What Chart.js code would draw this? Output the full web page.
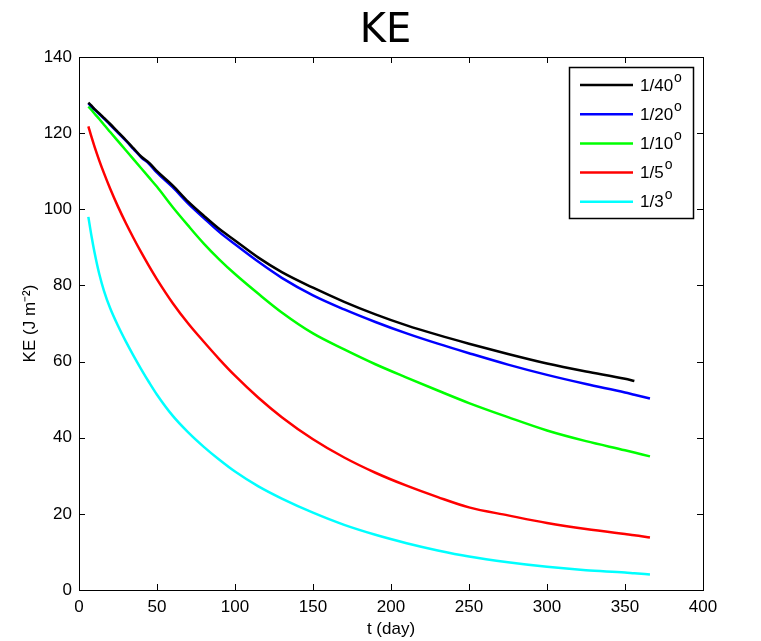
<!DOCTYPE html>
<html>
<head>
<meta charset="utf-8">
<title>KE</title>
<script src="https://cdn.jsdelivr.net/npm/chart.js@4.4.1/dist/chart.umd.min.js"></script>
<style>
  html, body { margin: 0; padding: 0; background: #fff; }
  #wrap { width: 761px; height: 641px; }
</style>
</head>
<body>
<div id="wrap"><canvas id="keChart"></canvas></div>
<script>
// time axis (days) shared by all runs
const days = [6, 8, 10, 13, 16, 20, 25, 30, 35, 40, 45, 50, 60, 70, 80, 90, 100,
  115, 130, 150, 170, 190, 210, 230, 250, 275, 300, 325, 350, 356, 366];

// kinetic energy per resolution; the 1/40 run stops at day 356
const ke40 = [128.0, 127.2, 126.3, 125.2, 124.0, 122.4, 120.3, 118.2, 116.0, 113.8, 112.2, 110.0,
  106.3, 102.0, 98.3, 94.8, 91.8, 87.3, 83.5, 79.4, 75.7, 72.4, 69.5, 67.0, 64.7, 62.0, 59.5,
  57.4, 55.5, 54.9, null];
const ke20 = [127.8, 127.0, 126.2, 125.0, 123.8, 122.2, 120.1, 118.0, 115.8, 113.6, 111.9, 109.6,
  105.8, 101.5, 97.7, 94.0, 90.8, 86.2, 82.0, 77.4, 73.7, 70.4, 67.4, 64.7, 62.2, 59.2, 56.5,
  54.1, 51.9, 51.3, 50.3];
const ke10 = [127.0, 126.1, 125.1, 123.7, 122.2, 120.3, 117.9, 115.5, 113.1, 110.7, 108.3, 105.9,
  100.6, 95.7, 91.0, 86.8, 83.0, 77.8, 72.9, 67.4, 63.2, 59.3, 55.8, 52.4, 49.1, 45.4, 41.9,
  39.1, 36.7, 36.1, 35.1];
const ke5 = [121.8, 119.0, 116.4, 112.8, 109.5, 105.4, 100.7, 96.4, 92.4, 88.6, 85.0, 81.6,
  75.4, 70.0, 65.2, 60.6, 56.3, 50.5, 45.4, 39.6, 34.8, 30.8, 27.4, 24.4, 21.7, 19.6, 17.6,
  16.0, 14.7, 14.4, 13.8];
const ke3 = [98.0, 93.0, 88.6, 83.0, 78.6, 74.0, 69.4, 65.3, 61.5, 57.9, 54.5, 51.3,
  45.8, 41.4, 37.6, 34.2, 31.1, 27.2, 24.0, 20.3, 17.1, 14.5, 12.3, 10.4, 8.8, 7.3, 6.1,
  5.2, 4.6, 4.4, 4.1];

const seriesLabels = ['1/40', '1/20', '1/10', '1/5', '1/3'];
const seriesValues = [ke40, ke20, ke10, ke5, ke3];
const seriesColors = ['#000000', '#0000ff', '#00ff00', '#ff0000', '#00ffff'];

const xTicks = [0, 50, 100, 150, 200, 250, 300, 350, 400];
const yTicks = [0, 20, 40, 60, 80, 100, 120, 140];

const tickFont = { family: '"Liberation Sans", Arial, sans-serif', size: 17 };

function toPoints(values) {
  return days
    .map((d, i) => ({ x: d, y: values[i] }))
    .filter(p => p.y !== null);
}

// plot title, centred a little right of the canvas middle
const plotTitle = {
  id: 'plotTitle',
  afterDraw(chart) {
    const { ctx } = chart;
    ctx.save();
    ctx.fillStyle = '#000';
    ctx.font = '40px "DejaVu Sans", sans-serif';
    ctx.textAlign = 'center';
    ctx.textBaseline = 'alphabetic';
    ctx.fillText('KE', chart.width / 2 + 5, 42);
    ctx.restore();
  }
};

// box around the axes with short inward ticks on every side
const frameTicks = {
  id: 'frameTicks',
  afterDatasetsDraw(chart) {
    const { ctx, chartArea: a, scales: { x, y } } = chart;
    const len = 6;
    ctx.save();
    ctx.strokeStyle = '#000';
    ctx.lineWidth = 1;
    ctx.beginPath();
    x.ticks.forEach(t => {
      const px = Math.round(x.getPixelForValue(t.value)) + 0.5;
      ctx.moveTo(px, a.bottom); ctx.lineTo(px, a.bottom - len);
      ctx.moveTo(px, a.top); ctx.lineTo(px, a.top + len);
    });
    y.ticks.forEach(t => {
      const py = Math.round(y.getPixelForValue(t.value)) + 0.5;
      ctx.moveTo(a.left, py); ctx.lineTo(a.left + len, py);
      ctx.moveTo(a.right, py); ctx.lineTo(a.right - len, py);
    });
    ctx.stroke();
    ctx.strokeRect(Math.round(a.left) + 0.5, Math.round(a.top) + 0.5,
      Math.round(a.width), Math.round(a.height));
    ctx.restore();
  }
};

// boxed legend in the upper right corner, label followed by a raised "o"
const cornerLegend = {
  id: 'cornerLegend',
  afterDraw(chart) {
    const { ctx, chartArea: a } = chart;
    const w = 124, h = 151, rowH = 29.2;
    const left = a.right - 10 - w, top = a.top + 10;
    ctx.save();
    ctx.fillStyle = '#fff';
    ctx.fillRect(left, top, w, h);
    ctx.strokeStyle = '#000';
    ctx.lineWidth = 1.5;
    ctx.strokeRect(left + 0.5, top + 0.5, w, h);
    chart.data.datasets.forEach((ds, i) => {
      const cy = top + 18 + i * rowH;
      ctx.strokeStyle = ds.borderColor;
      ctx.lineWidth = 2.5;
      ctx.beginPath();
      ctx.moveTo(left + 11, cy);
      ctx.lineTo(left + 64, cy);
      ctx.stroke();
      ctx.fillStyle = '#000';
      ctx.textBaseline = 'middle';
      ctx.font = '17px "Liberation Sans", Arial, sans-serif';
      ctx.fillText(ds.label, left + 71, cy + 1);
      const tw = ctx.measureText(ds.label).width;
      ctx.font = '14px "Liberation Sans", Arial, sans-serif';
      ctx.fillText('o', left + 72 + tw, cy - 7);
    });
    ctx.restore();
  }
};

new Chart(document.getElementById('keChart'), {
  type: 'line',
  data: {
    datasets: seriesLabels.map((label, i) => ({
      label,
      data: toPoints(seriesValues[i]),
      borderColor: seriesColors[i],
      backgroundColor: seriesColors[i],
      borderWidth: 2.5,
      pointRadius: 0,
      cubicInterpolationMode: 'monotone',
      fill: false,
    })),
  },
  options: {
    responsive: true,
    maintainAspectRatio: false,
    animation: false,
    layout: { padding: { top: 57, right: 58, bottom: 0, left: 0 } },
    plugins: {
      legend: { display: false },
      tooltip: { enabled: false },
      title: { display: false },
    },
    scales: {
      x: {
        type: 'linear',
        min: 0,
        max: 400,
        afterBuildTicks: scale => { scale.ticks = xTicks.map(v => ({ value: v })); },
        afterFit: scale => { scale.height = 51; },
        grid: { display: false, drawTicks: false },
        border: { display: false },
        ticks: { color: '#000', font: tickFont, padding: 7, maxRotation: 0 },
        title: {
          display: true,
          text: 't (day)',
          color: '#000',
          font: tickFont,
          padding: { top: 0, bottom: 1 },
        },
      },
      y: {
        min: 0,
        max: 140,
        afterBuildTicks: scale => { scale.ticks = yTicks.map(v => ({ value: v })); },
        afterFit: scale => { scale.width = 79; },
        grid: { display: false, drawTicks: false },
        border: { display: false },
        ticks: { color: '#000', font: tickFont, padding: 7 },
        title: {
          display: true,
          text: 'KE (J m\u207B\u00B2)',
          color: '#000',
          font: tickFont,
          padding: { top: 20, bottom: 0 },
        },
      },
    },
  },
  plugins: [plotTitle, frameTicks, cornerLegend],
});
</script>
</body>
</html>
